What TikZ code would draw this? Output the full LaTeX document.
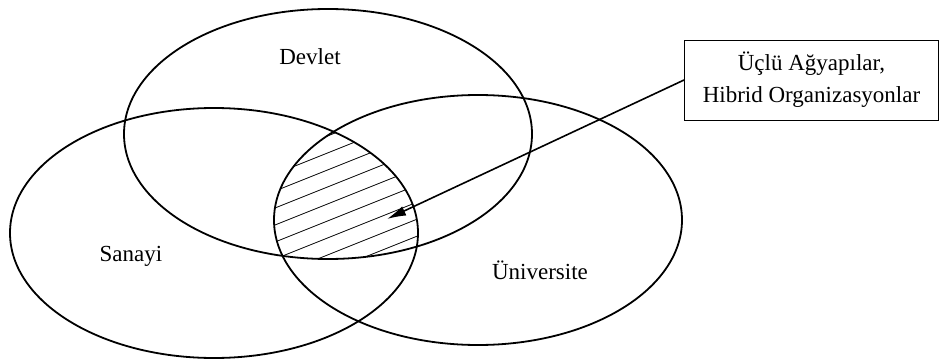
\documentclass[tikz,border=0pt]{standalone}
\usepackage{fontspec}
\setmainfont{Liberation Serif}
\usetikzlibrary{arrows.meta}
\tikzset{
  setring/.style={line width=1.8pt, draw=black},
  hatchline/.style={line width=0.8pt, draw=black},
  lbl/.style={font=\fontsize{23}{30}\selectfont, inner sep=0pt},
  callout/.style={draw=black, line width=0.9pt, minimum width=254pt, minimum height=80pt, inner sep=0pt, align=center, font=\fontsize{23}{32}\selectfont},
  pointer/.style={line width=1.6pt, -{Latex[length=19pt,width=10pt]}}
}
\begin{document}
\begin{tikzpicture}[x=1pt,y=-1pt]
\useasboundingbox (0,0) rectangle (940,361);
% hatching of the triple intersection
\begin{scope}
  \clip (328,134) ellipse [x radius=204pt, y radius=125pt];
  \clip (214,233) ellipse [x radius=204pt, y radius=125pt];
  \clip (478,220) ellipse [x radius=204pt, y radius=125pt];
  \foreach \k in {0,...,16} {
    \draw[hatchline] (250,{150+17*\k}) -- ++(220,-88);
  }
\end{scope}
% the three sets
\draw[setring] (328,134) ellipse [x radius=204pt, y radius=125pt];
\draw[setring] (214,233) ellipse [x radius=204pt, y radius=125pt];
\draw[setring] (478,220) ellipse [x radius=204pt, y radius=125pt];
% labels
\node[lbl] (devlet) at (310,57) {Devlet};
\node[lbl] (sanayi) at (131,256) {Sanayi};
\node[lbl] (univ) at (540,270) {Üniversite};
% callout box
\node[callout] (box) at (811.5,80) {Üçlü Ağyapılar,\\Hibrid Organizasyonlar};
\coordinate (tip) at (387,219);
\draw[pointer] (box.west) -- (tip);
\end{tikzpicture}
\end{document}
